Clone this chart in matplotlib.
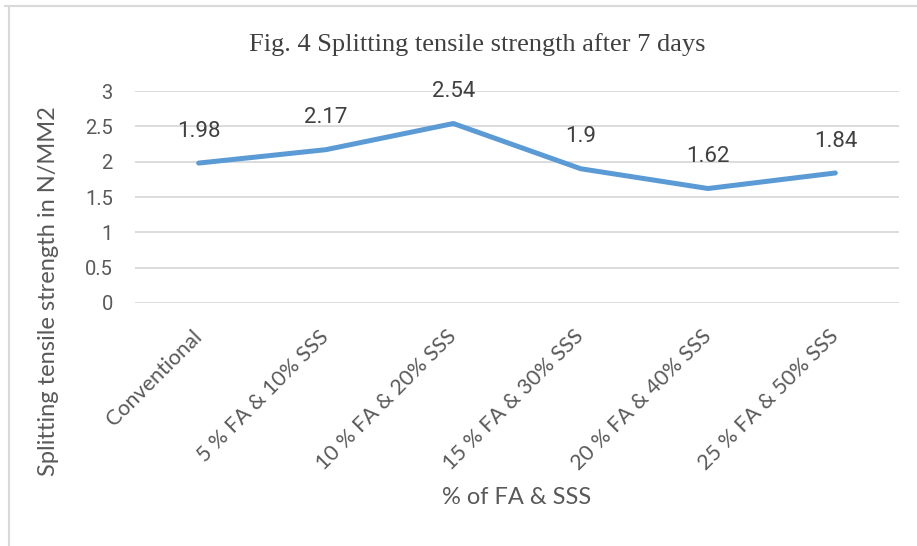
import matplotlib
matplotlib.use("Agg")
import matplotlib.pyplot as plt
from matplotlib.lines import Line2D
from matplotlib.transforms import ScaledTranslation

categories = ["Conventional", "5 % FA & 10% SSS", "10 % FA & 20% SSS",
              "15 % FA & 30% SSS", "20 % FA & 40% SSS", "25 % FA & 50% SSS"]
strength = [1.98, 2.17, 2.54, 1.9, 1.62, 1.84]
value_labels = ["1.98", "2.17", "2.54", "1.9", "1.62", "1.84"]
yticks = [0, 0.5, 1, 1.5, 2, 2.5, 3]
ytick_labels = ["0", "0.5", "1", "1.5", "2", "2.5", "3"]

grey = "#595959"
fig = plt.figure(figsize=(9.17, 5.46), dpi=100)
ax = fig.add_axes([135 / 917, 1 - 303 / 546, 764 / 917, 212 / 546])

x = list(range(len(categories)))
ax.plot(x, strength, color="#5B9BD5", lw=3.6, solid_capstyle="round", solid_joinstyle="round", zorder=3)
for xi, yi, lab in zip(x, strength, value_labels):
    ax.annotate(lab, (xi, yi), xytext=(0, 23), textcoords="offset points",
                ha="center", va="center", fontsize=16, color="#404040", family="Roboto")

ax.set_xlim(-0.5, len(categories) - 0.5)
ax.set_ylim(0, 3)
ax.set_yticks(yticks)
ax.set_yticklabels(ytick_labels, family="Roboto", fontsize=14.5, color=grey)
ax.set_xticks(x)
ax.set_xticklabels(categories, rotation=45, ha="right", va="center", rotation_mode="anchor",
                   family="Lato", fontsize=15.5, color=grey)
shift = ScaledTranslation(9 / 100, 0, fig.dpi_scale_trans)
for t in ax.get_xticklabels():
    t.set_transform(t.get_transform() + shift)
ax.tick_params(axis="both", length=0)
ax.tick_params(axis="y", pad=16)
ax.tick_params(axis="x", pad=22)
ax.grid(axis="y", color="#d9d9d9", lw=1.3)
ax.set_axisbelow(True)
for s in ax.spines.values():
    s.set_visible(False)

ax.set_ylabel("Splitting tensile strength in N/MM2", family="Lato", fontsize=17, color=grey)
ax.yaxis.set_label_coords(59 / 917, 0.5, transform=fig.transFigure)
ax.yaxis.label.set_position((59 / 917, 1 - 291 / 546))
fig.text(517 / 917, 1 - 498 / 546, "% of FA & SSS", ha="center", va="center",
         family="Lato", fontsize=17, color=grey)
fig.text(477 / 917, 1 - 45 / 546, "Fig. 4 Splitting tensile strength after 7 days",
         ha="center", va="center", family="Liberation Serif", fontsize=19, color="#404040")

# outer frame (top and left edges only)
fig.add_artist(Line2D([5 / 917, 1], [1 - 6 / 546] * 2, color="#d9d9d9", lw=1.5))
fig.add_artist(Line2D([9 / 917] * 2, [0, 1 - 6 / 546], color="#d9d9d9", lw=1.5))

fig.savefig("out.png", dpi=100)
